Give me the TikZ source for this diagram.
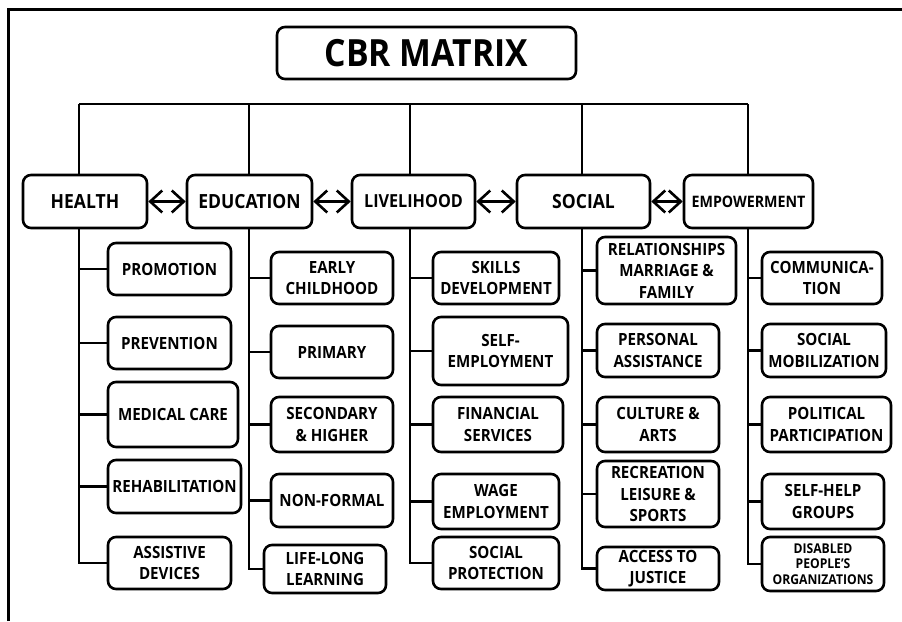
\documentclass[tikz,border=0pt]{standalone}
\usepackage{fontspec}
\setmainfont[FakeStretch=0.9]{Open Sans}
\usetikzlibrary{arrows.meta}
\newcommand\bx[7]{\node[box,#7,minimum width={#3-#2},minimum height={#5-#4}] (#1) at ({(#2+#3)/2},{(#4+#5)/2}) {#6};}
\begin{document}
\begin{tikzpicture}[x=1pt,y=-1pt,
  box/.style={draw,line width=2.6pt,rounded corners=8pt,align=center,inner sep=0pt,font=\bfseries\fontsize{16.8}{21.5}\selectfont},
  main/.style={font=\bfseries\fontsize{19.5}{22}\selectfont},
  conn/.style={line width=2.6pt},
  dbl/.style={line width=2.6pt,{Straight Barb[length=12pt,width=22pt]}-{Straight Barb[length=12pt,width=22pt]}}]
\useasboundingbox (0,0) rectangle (902,621);
% frame
\draw[line width=3pt] (8.5,621) -- (8.5,9) -- (902,9);
% title
\bx{title}{277}{576}{27}{79}{CBR MATRIX}{font=\bfseries\fontsize{37.5}{40}\selectfont}
% main boxes
\bx{health}{23}{147}{175}{228}{HEALTH}{main}
\bx{edu}{187}{312}{175}{228}{EDUCATION}{main}
\bx{live}{352}{475}{175}{228}{LIVELIHOOD}{font=\bfseries\fontsize{18}{20}\selectfont}
\bx{social}{517}{650}{175}{228}{SOCIAL}{main}
\bx{empow}{684}{813}{175}{228}{EMPOWERMENT}{font=\bfseries\fontsize{15.8}{18}\selectfont}
% bus
\coordinate (s1) at (79,104);
\coordinate (s2) at (249,104);
\coordinate (s3) at (410,104);
\coordinate (s4) at (582,104);
\coordinate (s5) at (748,104);
\draw[conn] (s1) -- (s5);
\draw[conn] (s1) -- (s1 |- health.north);
\draw[conn] (s2) -- (s2 |- edu.north);
\draw[conn] (s3) -- (s3 |- live.north);
\draw[conn] (s4) -- (s4 |- social.north);
\draw[conn] (s5) -- (s5 |- empow.north);
% arrows
\draw[dbl] (health.east) -- (edu.west);
\draw[dbl] (edu.east) -- (live.west);
\draw[dbl] (live.east) -- (social.west);
\draw[dbl] (social.east) -- (empow.west);
% health children
\bx{promo}{108}{231}{243}{295}{PROMOTION}{}
\bx{prev}{108}{231}{317}{369}{PREVENTION}{}
\bx{med}{108}{238}{382}{447}{MEDICAL CARE}{}
\bx{rehab}{108}{241}{460}{513}{REHABILITATION}{}
\bx{assist}{108}{231}{537}{589}{ASSISTIVE\\DEVICES}{}
% education children
\bx{early}{271}{393}{252}{304}{EARLY\\CHILDHOOD}{}
\bx{primary}{271}{393}{326}{378}{PRIMARY}{}
\bx{second}{271}{393}{397}{452}{SECONDARY\\\& HIGHER}{}
\bx{nonformal}{271}{393}{474}{527}{NON-FORMAL}{}
\bx{lifelong}{264}{386}{545}{593}{LIFE-LONG\\LEARNING}{}
% livelihood children
\bx{skills}{433}{559}{252}{304}{SKILLS\\DEVELOPMENT}{}
\bx{selfemp}{433}{568}{317}{385}{SELF-\\EMPLOYMENT}{}
\bx{financial}{433}{563}{397}{452}{FINANCIAL\\SERVICES}{}
\bx{wage}{433}{559}{474}{529}{WAGE\\EMPLOYMENT}{}
\bx{socprot}{433}{559}{537}{589}{SOCIAL\\PROTECTION}{}
% social children
\bx{relat}{597}{736}{237}{304}{RELATIONSHIPS\\MARRIAGE \&\\FAMILY}{}
\bx{personal}{597}{719}{324}{377}{PERSONAL\\ASSISTANCE}{}
\bx{culture}{597}{719}{397}{452}{CULTURE \&\\ARTS}{}
\bx{recreation}{597}{719}{461}{527}{RECREATION\\LEISURE \&\\SPORTS}{}
\bx{justice}{597}{719}{547}{590}{ACCESS TO\\JUSTICE}{}
% empowerment children
\bx{comm}{762}{882}{252}{304}{COMMUNICA-\\TION}{}
\bx{mobil}{762}{886}{324}{377}{SOCIAL\\MOBILIZATION}{}
\bx{polit}{762}{891}{397}{452}{POLITICAL\\PARTICIPATION}{}
\bx{selfhelp}{762}{884}{474}{529}{SELF-HELP\\GROUPS}{}
\bx{dpo}{762}{884}{537}{591}{DISABLED\\PEOPLE’S\\ORGANIZATIONS}{font=\bfseries\fontsize{13.5}{15.5}\selectfont}
% spines
\draw[conn] (s1 |- health.south) |- (assist.west);
\foreach \c in {promo,prev,med,rehab} \draw[conn] (s1 |- \c.west) -- (\c.west);
\draw[conn] (s2 |- edu.south) |- (lifelong.west);
\foreach \c in {early,primary,second,nonformal} \draw[conn] (s2 |- \c.west) -- (\c.west);
\draw[conn] (s3 |- live.south) |- (socprot.west);
\foreach \c in {skills,selfemp,financial,wage} \draw[conn] (s3 |- \c.west) -- (\c.west);
\draw[conn] (s4 |- social.south) |- (justice.west);
\foreach \c in {relat,personal,culture,recreation} \draw[conn] (s4 |- \c.west) -- (\c.west);
\draw[conn] (s5 |- empow.south) |- (dpo.west);
\foreach \c in {comm,mobil,polit,selfhelp} \draw[conn] (s5 |- \c.west) -- (\c.west);
\end{tikzpicture}
\end{document}
